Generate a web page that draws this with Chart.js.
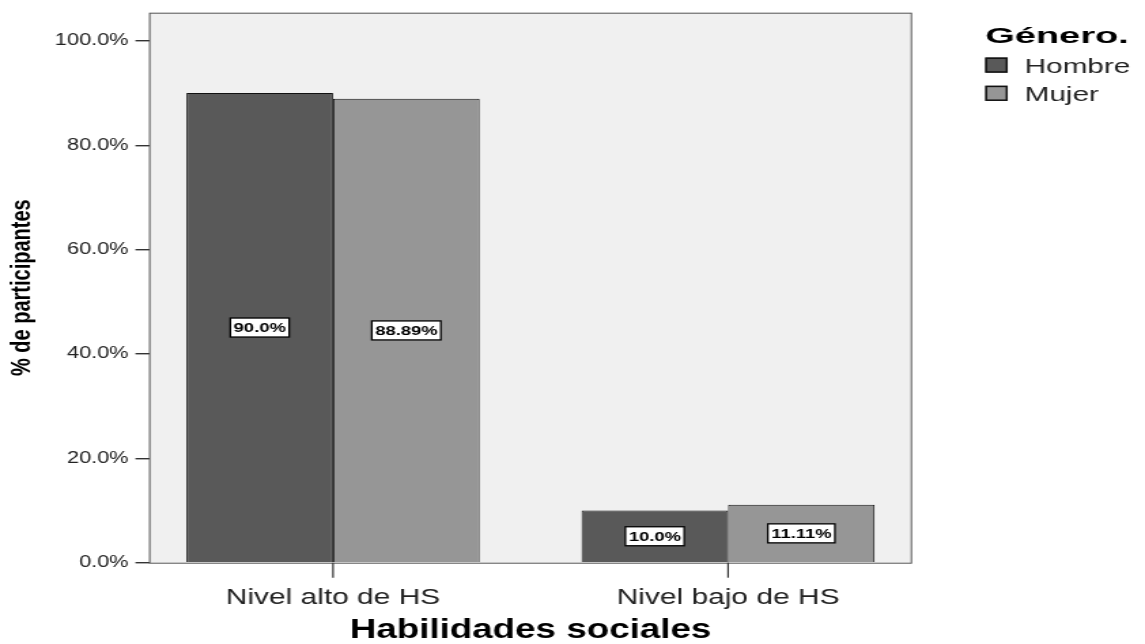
<!DOCTYPE html>
<html><head><meta charset="utf-8">
<script src="https://cdn.jsdelivr.net/npm/chart.js@4.4.1/dist/chart.umd.min.js"></script>
<style>
html,body{margin:0;padding:0;background:#fff;overflow:hidden;width:1145px;height:644px;}
#wrap{position:absolute;left:0;top:0;width:842px;height:644px;transform:scaleX(1.35986);transform-origin:0 0;}
</style></head><body>
<div id="wrap"><canvas id="c"></canvas></div>
<script>
const categories = ['Nivel alto de HS', 'Nivel bajo de HS'];
const seriesNames = ['Hombre', 'Mujer'];
const hombre = [90.0, 10.0];
const mujer = [88.89, 11.11];
const yTicks = [0, 20, 40, 60, 80, 100];
const legendTitle = 'Género.';
const xTitle = 'Habilidades sociales';
const yTitle = '% de participantes';

const FONT = '"Liberation Sans", Arial, Helvetica, sans-serif';
Chart.defaults.font.family = FONT;

function fmt(v){ return (Math.abs(v - Math.round(v)) < 1e-9 ? v.toFixed(1) : v.toFixed(2)) + '%'; }

const decor = {
  id: 'decor',
  beforeDraw(chart){
    const {ctx, chartArea:a} = chart;
    ctx.save();
    ctx.fillStyle = '#f0f0f0';
    ctx.fillRect(a.left, a.top, a.right - a.left, a.bottom - a.top);
    ctx.restore();
  },
  afterDatasetsDraw(chart){
    const {ctx, chartArea:a} = chart;
    ctx.save();
    ctx.strokeStyle = '#555';
    ctx.lineWidth = 1;
    ctx.strokeRect(a.left + 0.5, a.top + 0.5, a.right - a.left - 1, a.bottom - a.top);
    // category tick marks, placed by the x scale
    const xs = chart.scales.x;
    ctx.strokeStyle = '#333';
    ctx.lineWidth = 1.2;
    xs.ticks.forEach((t, i) => {
      const px = xs.getPixelForTick(i);
      ctx.beginPath();
      ctx.moveTo(px, a.bottom);
      ctx.lineTo(px, a.bottom + 15);
      ctx.stroke();
    });
    ctx.font = 'bold 13.5px ' + FONT;
    ctx.textAlign = 'center';
    ctx.textBaseline = 'middle';
    chart.data.datasets.forEach((ds, di) => {
      const meta = chart.getDatasetMeta(di);
      meta.data.forEach((el, i) => {
        const txt = fmt(ds.data[i].y);
        const cx = el.x, cy = (el.y + el.base) / 2;
        const w = ctx.measureText(txt).width + 5, h = 19;
        ctx.fillStyle = '#fff';
        ctx.fillRect(cx - w/2, cy - h/2, w, h);
        ctx.strokeStyle = '#000';
        ctx.lineWidth = 1.3;
        ctx.strokeRect(cx - w/2, cy - h/2, w, h);
        ctx.fillStyle = '#000';
        ctx.fillText(txt, cx, cy + 1);
      });
    });
    ctx.restore();
  },
  afterDraw(chart){
    const ctx = chart.ctx;
    ctx.save();
    ctx.fillStyle = '#000';
    ctx.textBaseline = 'alphabetic';
    ctx.textAlign = 'left';
    ctx.save();
    ctx.translate(724.5, 42.5);
    ctx.scale(1.3, 1);
    ctx.font = 'bold 21.5px ' + FONT;
    ctx.fillText(legendTitle, 0, 0);
    ctx.restore();
    const ys = [57.5, 85.7];
    chart.data.datasets.forEach((ds, i) => {
      ctx.fillStyle = ds.backgroundColor;
      ctx.fillRect(724.5, ys[i], 16.5, 15.2);
      ctx.strokeStyle = '#111';
      ctx.lineWidth = 1.5;
      ctx.strokeRect(725.2, ys[i] + 0.7, 15.1, 13.8);
      ctx.save();
      ctx.translate(753.5, ys[i] + 15.5);
      ctx.scale(1.12, 1);
      ctx.fillStyle = '#222';
      ctx.font = '19.5px ' + FONT;
      ctx.fillText(ds.label, 0, 0);
      ctx.restore();
    });
    ctx.restore();
  }
};

new Chart(document.getElementById('c'), {
  type: 'bar',
  data: {
    datasets: [
      { label: seriesNames[0], data: hombre.map((v, i) => ({x: i, y: v})),
        backgroundColor: '#595959', borderColor: '#111', borderWidth: 1,
        categoryPercentage: 0.742, barPercentage: 1 },
      { label: seriesNames[1], data: mujer.map((v, i) => ({x: i, y: v})),
        backgroundColor: '#969696', borderColor: '#111', borderWidth: 1,
        categoryPercentage: 0.742, barPercentage: 1 }
    ]
  },
  options: {
    responsive: true, maintainAspectRatio: false, animation: false,
    layout: { padding: { top: 12.7, right: 171.3, left: 0, bottom: 0 } },
    plugins: { legend: { display: false }, tooltip: { enabled: false } },
    scales: {
      x: {
        type: 'linear', min: -0.4657, max: 1.4657, offset: false,
        afterBuildTicks: s => { s.ticks = categories.map((c, i) => ({value: i})); },
        afterFit: s => { s.height = 81.3; s.paddingLeft = 0; s.paddingRight = 0; },
        grid: { display: false, offset: false, drawOnChartArea: false, drawTicks: true, tickLength: 15 },
        border: { display: false },
        ticks: { autoSkip: false, maxRotation: 0, minRotation: 0, padding: 7, color: '#222',
                 font: { size: 22 }, callback: v => categories[v] },
        title: { display: true, text: xTitle, color: '#000',
                 font: { size: 27, weight: 'bold', lineHeight: 1 }, padding: { top: 0, bottom: 0 } }
      },
      y: {
        min: 0, max: 105.4,
        afterBuildTicks: s => { s.ticks = yTicks.map(v => ({value: v})); },
        afterFit: s => { s.width = 109.6; s.paddingTop = 0; s.paddingBottom = 0; },
        grid: { offset: false, drawOnChartArea: false, drawTicks: true, tickLength: 10, color: '#333', lineWidth: 1.4 },
        border: { display: false },
        ticks: { padding: 5, color: '#222', font: { size: 16 }, callback: v => v.toFixed(1) + '%' },
        title: { display: true, text: yTitle, color: '#000',
                 font: { size: 20, weight: 'bold' }, padding: { top: 4, bottom: 0 } }
      }
    }
  },
  plugins: [decor]
});
</script>
</body></html>
